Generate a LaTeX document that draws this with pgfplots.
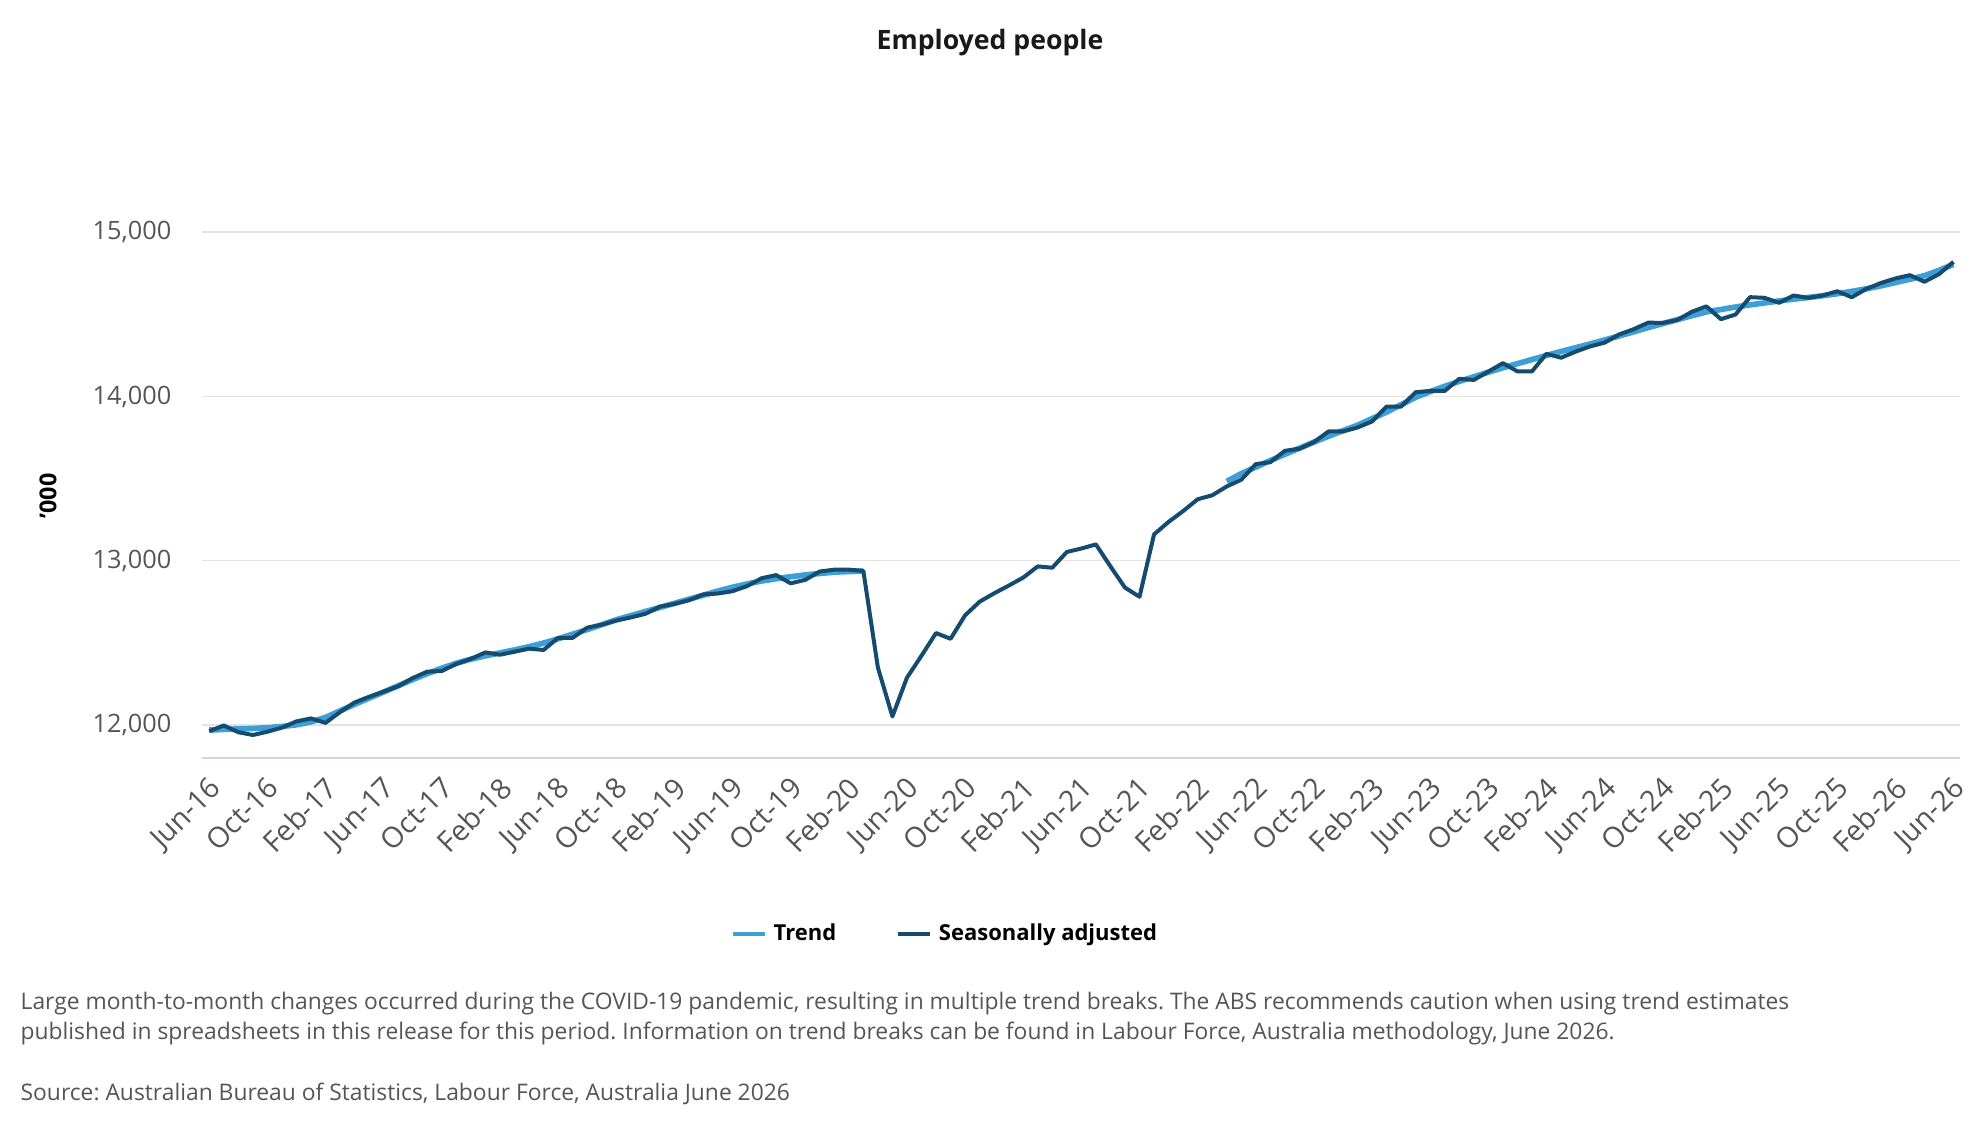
\documentclass[border=0pt]{standalone}
\usepackage{fontspec}
\setmainfont{Open Sans}
\usepackage{pgfplots}
\usepackage{pgfplotstable}
\pgfplotsset{compat=1.18}

\definecolor{trendc}{HTML}{3E9FD6}
\definecolor{sac}{HTML}{164B70}
\definecolor{gridc}{HTML}{E3E3E3}
\definecolor{axisc}{HTML}{CCD6EB}
\definecolor{labc}{HTML}{555555}

% Employed people ('000), monthly from Jun-16 (i = 0) to Jun-26 (i = 120)
% sa = seasonally adjusted, trend = trend (suspended over the COVID-19 period)
\pgfplotstableread{
i sa trend
0 11961 11968
1 11996 11972
2 11955 11975
3 11938 11978
4 11958 11982
5 11983 11990
6 12021 12000
7 12039 12018
8 12012 12045
9 12078 12085
10 12136 12125
11 12171 12163
12 12202 12200
13 12235 12238
14 12285 12276
15 12324 12312
16 12328 12345
17 12371 12375
18 12402 12400
19 12441 12420
20 12427 12438
21 12445 12456
22 12464 12476
23 12456 12498
24 12530 12524
25 12530 12552
26 12592 12580
27 12610 12610
28 12635 12640
29 12654 12665
30 12676 12690
31 12720 12715
32 12736 12740
33 12759 12765
34 12794 12790
35 12800 12815
36 12814 12838
37 12845 12858
38 12893 12876
39 12912 12890
40 12862 12902
41 12883 12913
42 12934 12922
43 12945 12930
44 12945 12934
45 12938 12936
46 12349 nan
47 12051 nan
48 12287 nan
49 12421 nan
50 12559 nan
51 12524 nan
52 12667 nan
53 12750 nan
54 12801 nan
55 12848 nan
56 12897 nan
57 12965 nan
58 12957 nan
59 13053 nan
60 13074 nan
61 13099 nan
62 12965 nan
63 12836 nan
64 12780 nan
65 13160 nan
66 13236 nan
67 13302 nan
68 13374 nan
69 13398 nan
70 13452 13483
71 13493 13530
72 13588 13570
73 13600 13610
74 13669 13648
75 13682 13685
76 13722 13722
77 13787 13758
78 13787 13792
79 13811 13825
80 13848 13865
81 13939 13905
82 13939 13950
83 14026 13995
84 14034 14030
85 14034 14062
86 14108 14092
87 14101 14120
88 14152 14148
89 14203 14175
90 14153 14200
91 14153 14225
92 14260 14250
93 14236 14274
94 14273 14297
95 14305 14320
96 14328 14344
97 14378 14369
98 14410 14394
99 14450 14420
100 14448 14444
101 14466 14468
102 14516 14492
103 14549 14515
104 14471 14530
105 14499 14545
106 14605 14558
107 14601 14570
108 14571 14582
109 14615 14593
110 14601 14603
111 14615 14614
112 14641 14626
113 14605 14640
114 14655 14656
115 14691 14674
116 14719 14694
117 14739 14714
118 14699 14736
119 14745 14768
120 14820 14805
}\employed

\begin{document}
\frenchspacing
\begin{tikzpicture}
\path[use as bounding box] (0pt,0pt) rectangle (594pt,342pt);

\node[font=\bfseries\fontsize{8.0}{10}\selectfont, text=black!90] at (297pt,329.2pt) {Employed people};

\begin{axis}[
  at={(60.6pt,114.7pt)}, anchor=south west,
  scale only axis, width=527.4pt, height=157.6pt,
  xmin=-0.5, xmax=120.45, ymin=11800, ymax=15000,
  axis x line*=bottom, axis y line*=left,
  x axis line style={-, draw=axisc, line width=0.6pt},
  y axis line style={draw=none},
  major tick length=0pt,
  ymajorgrids, grid style={draw=gridc, line width=0.5pt},
  ytick={12000,13000,14000,15000},
  scaled y ticks=false,
  /pgf/number format/assume math mode=true,
  /pgf/number format/1000 sep={,},
  yticklabel style={font=\fontsize{7.6}{9}\selectfont, text=labc, anchor=east, inner sep=0pt, xshift=-9pt},
  xtick={0,4,...,120},
  xticklabels={Jun-16,Oct-16,Feb-17,Jun-17,Oct-17,Feb-18,Jun-18,Oct-18,Feb-19,Jun-19,Oct-19,Feb-20,Jun-20,Oct-20,Feb-21,Jun-21,Oct-21,Feb-22,Jun-22,Oct-22,Feb-23,Jun-23,Oct-23,Feb-24,Jun-24,Oct-24,Feb-25,Jun-25,Oct-25,Feb-26,Jun-26},
  xticklabel style={font=\fontsize{8.6}{10}\selectfont, text=labc, inner sep=0pt, xshift=-0.5pt, yshift=-5pt, rotate=45, anchor=north east},
  unbounded coords=jump,
  legend columns=2,
  legend style={at={(0.424,-0.336)}, anchor=center, draw=none, fill=none,
    font=\bfseries\fontsize{6.6}{8}\selectfont,
    /tikz/every even column/.append style={column sep=16pt}},
  legend image code/.code={\draw[#1, line width=1.3pt] (0pt,0pt) -- (9.5pt,0pt);},
]
\addplot[trendc, line width=1.7pt, line join=round] table[x=i, y=trend] {\employed};
\addlegendentry{Trend}
\addplot[sac, line width=1.2pt, line join=round] table[x=i, y=sa] {\employed};
\addlegendentry{Seasonally adjusted}
\end{axis}

\node[rotate=90, font=\bfseries\fontsize{7.0}{9}\selectfont] at (14.4pt,193.2pt) {'000};

\begin{scope}[every node/.style={anchor=west, inner sep=0pt, text=labc, font=\fontsize{6.85}{9}\selectfont}]
\node at (6pt,40.8pt) {Large month-to-month changes occurred during the COVID-19 pandemic, resulting in multiple trend breaks. The ABS recommends caution when using trend estimates};
\node at (6pt,31.8pt) {published in spreadsheets in this release for this period. Information on trend breaks can be found in Labour Force, Australia methodology, June 2026.};
\node at (6pt,13.9pt) {Source: Australian Bureau of Statistics, Labour Force, Australia June 2026};
\end{scope}
\end{tikzpicture}
\end{document}
